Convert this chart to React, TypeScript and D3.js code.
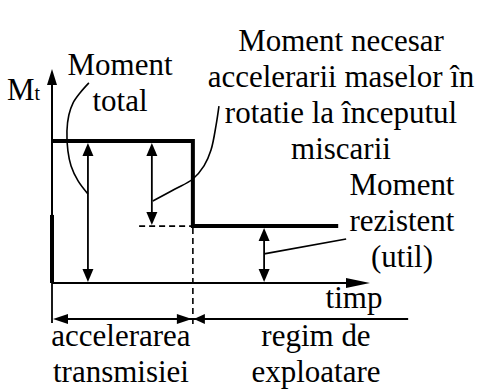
import React, { useEffect, useRef } from 'react';
import * as d3 from 'd3';

// time and torque in arbitrary units: 0..100 is the full length of each axis
const stepTimes = [0, 44.3, 90]; // start, end of acceleration, end of drawn curve
const torqueLevels = [66.4, 26.6]; // moment total, moment rezistent
const edgeLow = 31.8; // the leading edge is only drawn thick below this level
const arrowTimes = [11.3, 31.4, 66.7]; // total, acceleration, resistent arrows
const dashStart = 27.4;
const dimensionEnd = 112;

const accelLabel = ['Moment necesar', 'accelerarii maselor în', 'rotatie la începutul', 'miscarii'];
const resistLabel = ['Moment', 'rezistent', '(util)'];
const totalLabel = ['Moment', 'total'];
const phaseLabels = [['accelerarea', 'transmisiei'], ['regim de', 'exploatare']];

// leader lines, in axis units [time, torque]
const totalLeader: [number, number][] = [
  [11.6, 93.5], [8.8, 88.8], [6.6, 84.1], [5.3, 78.5], [4.7, 71], [5, 61.7], [6, 54.7], [8.2, 47.7], [11.3, 41.6],
];
const accelLeader: [number, number][] = [
  [52.5, 82.7], [51.6, 73.8], [50, 62.1], [47.8, 54.7], [44.3, 48.6], [38.7, 43.9], [31.7, 38.3],
];
const resistLeader: [number, number][] = [[66.7, 13.6], [92.5, 20.6]];

const FONT = '"Liberation Serif"';
// text is set at 28px (where the serifs render) and scaled up to ~31px
const baseSize = 28;
const textScale = 31 / 28;

export default function App() {
  const svgRef = useRef<SVGSVGElement>(null);

  useEffect(() => {
    const width = 482;
    const height = 390;
    const svg = d3.select(svgRef.current).attr('width', width).attr('height', height).html(null);

    const x = d3.scaleLinear().domain([0, 100]).range([52, 370]);
    const y = d3.scaleLinear().domain([0, 100]).range([283, 69]);
    const dimY = 319;
    const extBottom = 325;

    const head = (tx: number, ty: number, dx: number, dy: number, len: number, half: number) => {
      const bx = tx - dx * len;
      const by = ty - dy * len;
      const px = -dy * half;
      const py = dx * half;
      svg
        .append('path')
        .attr('d', `M${tx},${ty}L${bx + px},${by + py}L${bx - px},${by - py}Z`)
        .attr('fill', '#000');
    };

    const line = (x1: number, y1: number, x2: number, y2: number, w: number, dash?: string) =>
      svg
        .append('line')
        .attr('x1', x1)
        .attr('y1', y1)
        .attr('x2', x2)
        .attr('y2', y2)
        .attr('stroke', '#000')
        .attr('stroke-width', w)
        .attr('stroke-dasharray', dash || null);

    // axes
    line(x(0), y(0), x(0), y(100) + 10, 2);
    head(x(0), y(100), 0, -1, 16, 5);
    line(x(0), y(0), x(100) - 10, y(0), 2);
    head(x(100), y(0), 1, 0, 24, 5);

    // torque curve
    svg
      .append('path')
      .attr(
        'd',
        `M${x(stepTimes[0])},${y(torqueLevels[0])}H${x(stepTimes[1])}V${y(torqueLevels[1])}H${x(stepTimes[2])}`
      )
      .attr('fill', 'none')
      .attr('stroke', '#000')
      .attr('stroke-width', 4)
      .attr('stroke-linejoin', 'miter');
    line(x(0), y(edgeLow), x(0), y(0), 4);

    // dashed helpers
    line(x(dashStart), y(torqueLevels[1]), x(stepTimes[1]), y(torqueLevels[1]), 1.6, '6,4');
    line(x(stepTimes[1]), y(torqueLevels[1]) + 2, x(stepTimes[1]), extBottom, 1.6, '6,4');

    // double-headed measure arrows
    const measure = (t: number, top: number, bottom: number) => {
      const yt = y(top) + 2;
      const yb = y(bottom) - 1;
      line(x(t), yt + 8, x(t), yb - 8, 1.8);
      head(x(t), yt, 0, -1, 13, 5.5);
      head(x(t), yb, 0, 1, 13, 5.5);
    };
    measure(arrowTimes[0], torqueLevels[0], 0);
    measure(arrowTimes[1], torqueLevels[0], torqueLevels[1]);
    measure(arrowTimes[2], torqueLevels[1], 0);

    // dimension line under the time axis
    line(x(0), y(0), x(0), extBottom - 2, 1.8);
    line(x(0) + 4, dimY, x(dimensionEnd), dimY, 1.8);
    head(x(0) + 1, dimY, -1, 0, 15, 5);
    head(x(stepTimes[1]) - 1, dimY, 1, 0, 15, 5);
    head(x(stepTimes[1]) + 1, dimY, -1, 0, 11, 5);

    // leaders
    const lead = d3
      .line<[number, number]>()
      .x((d) => x(d[0]))
      .y((d) => y(d[1]))
      .curve(d3.curveCatmullRom);
    [totalLeader, accelLeader, resistLeader].forEach((pts) => {
      svg
        .append('path')
        .attr('d', lead(pts))
        .attr('fill', 'none')
        .attr('stroke', '#000')
        .attr('stroke-width', 1.6);
    });

    // text
    const textLayer = svg.append('g').attr('transform', `scale(${textScale})`);
    const block = (rows: string[], cx: number, baseline: number, step: number) => {
      rows.forEach((r, i) => {
        textLayer
          .append('text')
          .attr('x', cx / textScale)
          .attr('y', (baseline + i * step) / textScale)
          .attr('text-anchor', 'middle')
          .style('font-family', FONT)
          .style('font-size', `${baseSize}px`)
          .attr('fill', '#000')
          .text(r);
      });
    };
    block(accelLabel, 341, 51, 36);
    block(resistLabel, 402, 195, 36);
    block(totalLabel, 120, 75, 36);
    block(phaseLabels[0], 121, 346, 36.5);
    block(phaseLabels[1], 316, 346, 36.5);
    block(['timp'], 354, 308, 0);

    const mt = textLayer
      .append('text')
      .attr('x', 7 / textScale)
      .attr('y', 100 / textScale)
      .style('font-family', FONT)
      .style('font-size', `${baseSize}px`)
      .attr('fill', '#000');
    mt.append('tspan').text('M');
    mt.append('tspan').style('font-size', '18px').text('t');
  }, []);

  return <svg ref={svgRef} style={{ position: 'absolute', left: 0, top: 0 }} />;
}
